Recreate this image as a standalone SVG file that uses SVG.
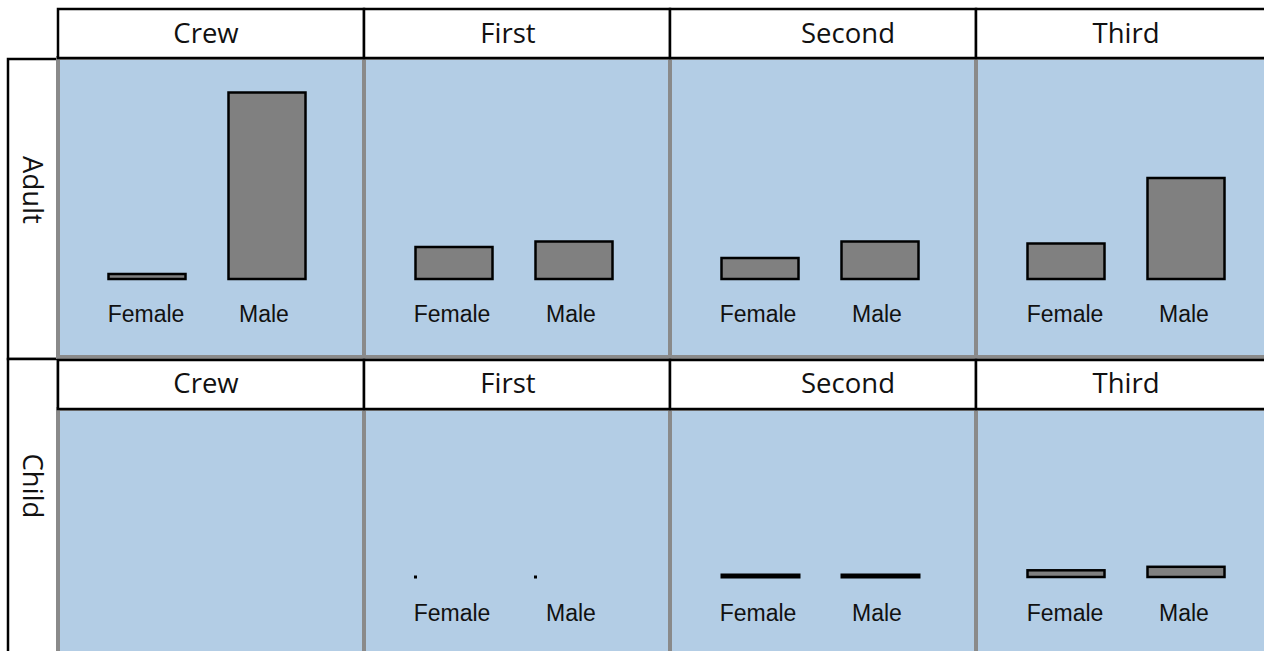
<svg xmlns="http://www.w3.org/2000/svg" width="1264" height="651" viewBox="0 0 1264 651">
<style>
.panel{fill:#b3cde5;stroke:#8a8a8a;stroke-width:4}
.hdr{fill:#fff;stroke:#000;stroke-width:2.5}
.strip{fill:#fff;stroke:#000;stroke-width:2.5}
.bar{fill:#808080;stroke:#000;stroke-width:2.5}
.ht{font-family:"Open Sans",sans-serif;font-size:27.5px;fill:#111;text-anchor:middle}
.bl{font-family:"Liberation Sans",Arial,sans-serif;font-size:23px;fill:#111;text-anchor:middle}
</style>
<rect width="1264" height="651" fill="#fff"/>
<g id="row-labels">
<g id="strip-adult"><rect class="strip" x="8" y="59" width="50" height="300"/><text class="ht" transform="translate(23,190) rotate(90)">Adult</text></g>
<g id="strip-child"><rect class="strip" x="8" y="359" width="50" height="300"/><text class="ht" transform="translate(23,486) rotate(90)">Child</text></g>
</g>
<g id="panels">
<rect class="panel" x="58" y="58" width="306" height="299"/>
<rect class="panel" x="364" y="58" width="306" height="299"/>
<rect class="panel" x="670" y="58" width="306" height="299"/>
<rect class="panel" x="976" y="58" width="306" height="299"/>
<rect class="panel" x="58" y="409" width="306" height="299"/>
<rect class="panel" x="364" y="409" width="306" height="299"/>
<rect class="panel" x="670" y="409" width="306" height="299"/>
<rect class="panel" x="976" y="409" width="306" height="299"/>
</g>
<g id="headers">
<g id="h-adult-crew"><rect class="hdr" x="58" y="9" width="306" height="49"/><text class="ht" x="206" y="43">Crew</text></g>
<g id="h-adult-first"><rect class="hdr" x="364" y="9" width="306" height="49"/><text class="ht" x="508" y="43">First</text></g>
<g id="h-adult-second"><rect class="hdr" x="670" y="9" width="306" height="49"/><text class="ht" x="848" y="43">Second</text></g>
<g id="h-adult-third"><rect class="hdr" x="976" y="9" width="306" height="49"/><text class="ht" x="1126" y="43">Third</text></g>
<g id="h-child-crew"><rect class="hdr" x="58" y="360" width="306" height="49"/><text class="ht" x="206" y="393">Crew</text></g>
<g id="h-child-first"><rect class="hdr" x="364" y="360" width="306" height="49"/><text class="ht" x="508" y="393">First</text></g>
<g id="h-child-second"><rect class="hdr" x="670" y="360" width="306" height="49"/><text class="ht" x="848" y="393">Second</text></g>
<g id="h-child-third"><rect class="hdr" x="976" y="360" width="306" height="49"/><text class="ht" x="1126" y="393">Third</text></g>
</g>
<g id="bars-adult">
<g id="adult-crew"><rect class="bar" x="108.5" y="274" width="77" height="5"/><rect class="bar" x="228.5" y="92.5" width="77" height="186.5"/><text class="bl" x="146" y="322">Female</text><text class="bl" x="264" y="322">Male</text></g>
<g id="adult-first"><rect class="bar" x="415.5" y="247" width="77" height="32"/><rect class="bar" x="535.5" y="241.5" width="77" height="37.5"/><text class="bl" x="452" y="322">Female</text><text class="bl" x="571" y="322">Male</text></g>
<g id="adult-second"><rect class="bar" x="721.5" y="258" width="77" height="21"/><rect class="bar" x="841.5" y="241.5" width="77" height="37.5"/><text class="bl" x="758" y="322">Female</text><text class="bl" x="877" y="322">Male</text></g>
<g id="adult-third"><rect class="bar" x="1027.5" y="243.5" width="77" height="35.5"/><rect class="bar" x="1147.5" y="178" width="77" height="101"/><text class="bl" x="1065" y="322">Female</text><text class="bl" x="1184" y="322">Male</text></g>
</g>
<g id="bars-child">
<g id="child-first"><rect x="414" y="575.5" width="3" height="3" fill="#000"/><rect x="534" y="575.5" width="3" height="3" fill="#000"/><text class="bl" x="452" y="621">Female</text><text class="bl" x="571" y="621">Male</text></g>
<g id="child-second"><rect x="720.5" y="573.5" width="80" height="5" fill="#000"/><rect x="840.5" y="573.5" width="80" height="5" fill="#000"/><text class="bl" x="758" y="621">Female</text><text class="bl" x="877" y="621">Male</text></g>
<g id="child-third"><rect class="bar" x="1027.5" y="570.3" width="77" height="6.7"/><rect class="bar" x="1147.5" y="566.8" width="77" height="10.2"/><text class="bl" x="1065" y="621">Female</text><text class="bl" x="1184" y="621">Male</text></g>
</g>
</svg>
